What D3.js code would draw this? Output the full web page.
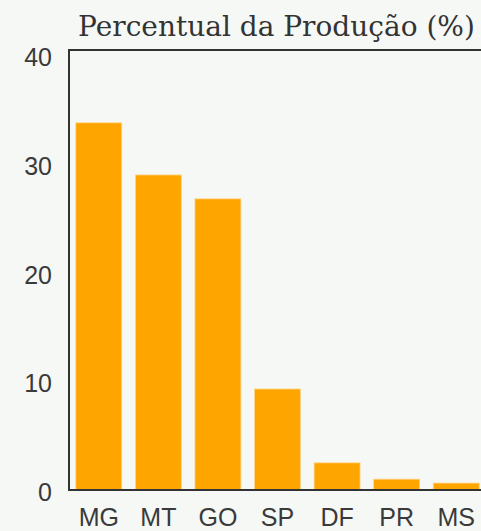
<!DOCTYPE html>
<html>
<head>
<meta charset="utf-8">
<script src="https://cdn.jsdelivr.net/npm/d3@7"></script>
<style>
  body { margin: 0; background: #f6f8f6; }
  svg { display: block; }
</style>
</head>
<body>
<div class="chart"></div>
<script>
// data
var estados = ["MG", "MT", "GO", "SP", "DF", "PR", "MS"];
var percentual = [33.8, 29.0, 26.8, 9.3, 2.5, 1.0, 0.64];
var yTicks = [0, 10, 20, 30, 40];
var titulo = "Percentual da Produção (%)";

var svgWidth = 481;
var svgHeight = 531;

var margin = { top: 50, left: 69 };
var width = 417;
var height = 440;

var svg = d3.select(".chart")
  .append("svg")
  .attr("width", svgWidth)
  .attr("height", svgHeight);

var chartGroup = svg.append("g")
  .attr("transform", `translate(${margin.left}, ${margin.top})`);

var xScale = d3.scaleBand()
  .domain(estados)
  .range([0, width])
  .paddingInner(0.228)
  .paddingOuter(0.114);

var yScale = d3.scaleLinear()
  .domain([0, 40.5])
  .range([height, 0]);

// bars
chartGroup.selectAll(".bar")
  .data(estados)
  .enter()
  .append("rect")
  .attr("class", "bar")
  .attr("x", d => xScale(d))
  .attr("width", xScale.bandwidth())
  .attr("y", (d, i) => yScale(percentual[i]))
  .attr("height", (d, i) => height - yScale(percentual[i]))
  .attr("fill", "#ffa500")
  .attr("stroke", "#ffd890")
  .attr("stroke-width", 0.8);

// frame
chartGroup.append("rect")
  .attr("x", 0)
  .attr("y", 0)
  .attr("width", width)
  .attr("height", height)
  .attr("fill", "none")
  .attr("stroke", "#333")
  .attr("stroke-width", 2);

// axes
var yAxis = d3.axisLeft(yScale).tickValues(yTicks).tickSize(0).tickPadding(17);
var xAxis = d3.axisBottom(xScale).tickSize(0).tickPadding(18);

var gy = chartGroup.append("g").call(yAxis);
var gx = chartGroup.append("g")
  .attr("transform", `translate(0, ${height})`)
  .call(xAxis);

[gx, gy].forEach(function(g) {
  g.select(".domain").remove();
  g.selectAll("text")
    .attr("font-family", "Liberation Sans, Arial, sans-serif")
    .attr("font-size", 25)
    .attr("fill", "#3a3a3a");
});
gy.selectAll("text").attr("dy", "0.42em");

// title
svg.append("text")
  .attr("x", margin.left + width / 2 - 1)
  .attr("y", 36)
  .attr("text-anchor", "middle")
  .attr("font-family", "DejaVu Serif, serif")
  .attr("font-size", 28)
  .attr("fill", "#333")
  .text(titulo);
</script>
</body>
</html>
